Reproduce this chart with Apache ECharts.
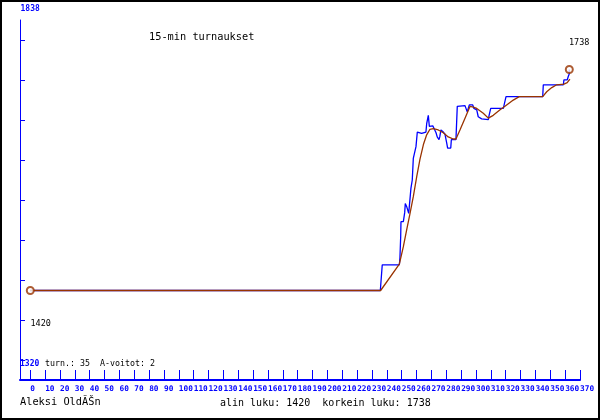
<!DOCTYPE html>
<html>
<head>
<meta charset="utf-8">
<script src="https://cdn.jsdelivr.net/npm/echarts@6/dist/echarts.min.js"></script>
<style>html,body{margin:0;padding:0;background:#fff}#c{width:600px;height:420px}</style>
</head>
<body>
<div id="c"></div>
<script>
// Rating (blue step line)
var ratingX = [0,235.6,236.9,248.4,248.8,249.3,249.5,251.1,252.0,252.4,253.3,254.7,255.8,256.2,257.1,257.8,258.5,259.6,260.5,263.4,264.1,266.3,266.8,267.9,268.6,269.5,270.9,273.1,273.9,275.1,275.6,276.4,278.0,279.1,280.3,280.9,283.0,283.4,286.5,287.4,288.6,292.6,294.1,295.5,297.8,298.6,300.5,301.5,303.8,308.3,308.7,309.9,318.4,320.2,344.9,345.3,358.8,359.2,361.4,362.1,362.8,362.8];
var ratingY = [1420,1420,1457,1457,1467,1497,1519,1519,1532,1545,1541,1531,1532,1567,1579,1610,1611,1627,1648,1646,1648,1648,1660,1672,1656,1658,1657,1647,1641,1637,1641,1651,1648,1645,1632,1625,1625,1637,1637,1685,1687,1686,1677,1687,1687,1682,1680,1670,1667,1666,1671,1682,1682,1699,1699,1716,1716,1723,1723,1728,1732,1738];
// Moving average (brown line)
var avgX = [0,235.8,248.4,251.1,253.3,255.6,257.8,260.1,262.3,264.6,266.8,269.0,271.3,274.6,278.0,281.3,284.7,286.5,289.2,292.6,296.0,298.2,300.5,304.9,308.3,311.6,316.2,319.5,325.1,329.1,344.9,347.6,351.0,354.3,359.2,361.4,363.2];
var avgY = [1420,1420,1458,1483,1507,1531,1555,1584,1609,1630,1644,1652,1653,1651,1647,1641,1638,1638,1651,1668,1685,1684,1682,1675,1668,1672,1680,1685,1694,1699,1699,1706,1712,1716,1717,1719,1724];
// Axis ticks
var xTickLabels = [0,10,20,30,40,50,60,70,80,90,100,110,120,130,140,150,160,170,180,190,200,210,220,230,240,250,260,270,280,290,300,310,320,330,340,350,360,370];
var yTickValues = [1320,1377.56,1435.11,1492.67,1550.22,1607.78,1665.33,1722.89,1780.44];
var yMinLabel = '1320', yMaxLabel = '1838';
var lowest = 1420, highest = 1738;
var tournaments = 35, aWins = 2;
var playerName = 'Aleksi OldĂŠn';
var chartTitle = '15-min turnaukset';

function zip(a, b) { return a.map(function (v, i) { return [v, b[i]]; }); }

var BLUE = '#0000ff', BROWN = '#993300';
var MONO = 'DejaVu Sans Mono';
var chart = echarts.init(document.getElementById('c'), null, { renderer: 'canvas' });
var endIdx = ratingX.length - 1;

chart.setOption({
  animation: false,
  backgroundColor: '#ffffff',
  grid: { left: 20, top: 20, right: 20, bottom: 40 },
  xAxis: {
    type: 'value', min: -6.93, max: 370,
    axisLine: { show: true, onZero: false, lineStyle: { color: BLUE, width: 2 } },
    axisTick: { show: true, inside: true, length: 10, lineStyle: { color: BLUE, width: 1 }, customValues: xTickLabels },
    axisLabel: { show: true, customValues: xTickLabels, color: BLUE, fontFamily: MONO, fontWeight: 'bold', fontSize: 7.8, margin: 5, align: 'left' },
    splitLine: { show: false }
  },
  yAxis: {
    type: 'value', min: 1291.22, max: 1809.22,
    axisLine: { show: true, onZero: false, lineStyle: { color: BLUE, width: 1 } },
    axisTick: { show: true, inside: true, length: 5, lineStyle: { color: BLUE, width: 1 }, customValues: yTickValues },
    axisLabel: { show: false },
    splitLine: { show: false }
  },
  series: [
    { type: 'line', data: zip(ratingX, ratingY), showSymbol: false, symbol: 'none', lineStyle: { color: BLUE, width: 1.3 }, z: 2 },
    { type: 'line', data: zip(avgX, avgY), showSymbol: false, symbol: 'none', lineStyle: { color: BROWN, width: 1.3 }, z: 3 },
    { type: 'scatter', data: [[ratingX[0], ratingY[0]], [ratingX[endIdx], ratingY[endIdx]]], symbol: 'emptyCircle', symbolSize: 7,
      itemStyle: { color: BROWN, borderWidth: 1 }, z: 4 }
  ],
  graphic: [
    { type: 'rect', shape: { x: 1, y: 1, width: 598, height: 418 }, style: { fill: 'none', stroke: '#000', lineWidth: 2 }, silent: true },
    { type: 'text', style: { text: yMaxLabel, x: 20.5, y: 9, font: 'bold 8px "' + MONO + '"', fill: BLUE, align: 'left', verticalAlign: 'middle' } },
    { type: 'text', style: { text: yMinLabel, x: 20, y: 364, font: 'bold 8px "' + MONO + '"', fill: BLUE, align: 'left', verticalAlign: 'middle' } },
    { type: 'text', style: { text: chartTitle, x: 149, y: 37, font: '10.3px "' + MONO + '"', fill: '#000', align: 'left', verticalAlign: 'middle' } },
    { type: 'text', style: { text: String(highest), x: 569, y: 43, font: '8.5px "' + MONO + '"', fill: '#000', align: 'left', verticalAlign: 'middle' } },
    { type: 'text', style: { text: String(lowest), x: 30.5, y: 324, font: '8.5px "' + MONO + '"', fill: '#000', align: 'left', verticalAlign: 'middle' } },
    { type: 'text', style: { text: 'turn.: ' + tournaments + '  A-voitot: ' + aWins, x: 45, y: 364, font: '8.3px "' + MONO + '"', fill: '#000', align: 'left', verticalAlign: 'middle' } },
    { type: 'text', style: { text: playerName, x: 20, y: 402.5, font: '10.3px "' + MONO + '"', fill: '#000', align: 'left', verticalAlign: 'middle' } },
    { type: 'text', style: { text: 'alin luku: ' + lowest + '  korkein luku: ' + highest, x: 220, y: 403, font: '10px "' + MONO + '"', fill: '#000', align: 'left', verticalAlign: 'middle' } }
  ]
});
</script>
</body>
</html>
